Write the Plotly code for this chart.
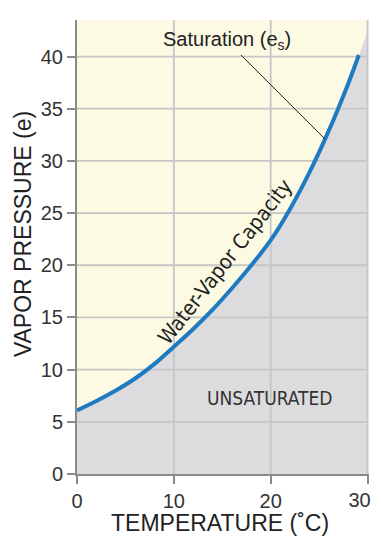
import numpy as np
import plotly.graph_objects as go

# ---- data ----
temp_c = [0, 2, 4, 6, 8, 10, 12, 14, 16, 18, 20, 22, 24, 26, 28, 30]
vapor_pressure = [6.1, 7.0, 8.0, 9.15, 10.55, 12.2, 13.9, 15.75, 17.8, 20.0, 22.4, 25.4, 28.9, 32.9, 37.4, 42.4]
curve_end_c = 29.1          # the blue curve stops just short of 30 °C
x_ticks = [0, 10, 20, 30]
x_tick_text = ["0", "10", "20", "30"]
y_ticks = [0, 5, 10, 15, 20, 25, 30, 35, 40]
x_max = 30.15
y_max = 43.5

YELLOW = "#FCFAE2"
GRAY = "#DCDCDE"
BLUE = "#1E7BC2"
GRID = "#C6C6C6"
AXIS = "#8A8A8A"
FONT = "Liberation Sans, Arial, sans-serif"
NARROW = "Liberation Sans Narrow, DejaVu Sans Condensed, Arial Narrow, sans-serif"

t = np.array(temp_c, dtype=float)
v = np.array(vapor_pressure, dtype=float)
mask = t < curve_end_c
t_curve = np.append(t[mask], curve_end_c)
v_curve = np.append(v[mask], np.interp(curve_end_c, t, v))

fig = go.Figure()

# unsaturated (gray) region under the capacity curve
fig.add_trace(go.Scatter(x=t, y=v, mode="lines", fill="tozeroy",
                         fillcolor=GRAY, line=dict(width=0, shape="spline"),
                         hoverinfo="skip", showlegend=False))

# grid lines drawn above the fill
gx, gy = [], []
for xv in x_ticks[1:]:
    gx += [xv, xv, None]
    gy += [0, y_max, None]
for yv in y_ticks[1:]:
    gx += [0, x_ticks[-1], None]
    gy += [yv, yv, None]
fig.add_trace(go.Scatter(x=gx, y=gy, mode="lines", line=dict(color=GRID, width=1.8),
                         hoverinfo="skip", showlegend=False))

# saturation curve
fig.add_trace(go.Scatter(x=t_curve, y=v_curve, mode="lines",
                         line=dict(color=BLUE, width=4, shape="spline"),
                         showlegend=False))

# invisible trace that carries the overlaid axis for the last tick label
fig.add_trace(go.Scatter(x=[x_ticks[-1]], y=[0], xaxis="x2", mode="markers",
                         marker=dict(opacity=0), hoverinfo="skip", showlegend=False))

sat_x = 25.6
sat_y = float(np.interp(sat_x, t, v))

fig.add_annotation(x=sat_x, y=sat_y, xref="x", yref="y",
                   text="Saturation (e<sub>s</sub>)", showarrow=True,
                   arrowhead=0, arrowwidth=1, arrowcolor="#222", standoff=0,
                   ax=-98, ay=-98, font=dict(family=FONT, size=20, color="#222"))
fig.add_annotation(x=15.3, y=20.3, xref="x", yref="y", text="Water-Vapor Capacity",
                   showarrow=False, textangle=-52,
                   font=dict(family=NARROW, size=21, color="#222"))
fig.add_annotation(x=19.9, y=7.3, xref="x", yref="y", text="UNSATURATED",
                   showarrow=False, font=dict(family=NARROW, size=19, color="#333"))

# axis titles
fig.add_annotation(x=0.491, y=-0.108, xref="paper", yref="paper",
                   text="TEMPERATURE (˚C)", showarrow=False,
                   xanchor="center", yanchor="middle",
                   font=dict(family=FONT, size=23, color="#222"))
fig.add_annotation(x=-0.184, y=0.529, xref="paper", yref="paper",
                   text="VAPOR PRESSURE (e)", showarrow=False, textangle=-90,
                   xanchor="center", yanchor="middle",
                   font=dict(family=FONT, size=23, color="#222"))

tickfont = dict(family=FONT, size=20, color="#333")
axis_common = dict(showgrid=False, zeroline=False, automargin=False,
                   showline=True, linecolor=AXIS, linewidth=2,
                   ticks="outside", ticklen=8, tickwidth=1.5, tickcolor=AXIS,
                   tickfont=tickfont)
fig.update_xaxes(range=[0, x_max], tickvals=x_ticks,
                 ticktext=x_tick_text[:-1] + [""], **axis_common)
fig.update_yaxes(range=[0, y_max], tickvals=y_ticks, **axis_common)

fig.update_layout(
    xaxis2=dict(overlaying="x", anchor="y", side="bottom", range=[0, x_max],
                tickvals=x_ticks[-1:], ticktext=x_tick_text[-1:],
                ticklabelshift=-8, ticks="outside", ticklen=8, tickwidth=1,
                tickcolor="rgba(0,0,0,0)", showline=False,
                showgrid=False, zeroline=False, automargin=False,
                tickfont=tickfont),
    # the page body adds an 8px offset; the figure is sized to fit inside it
    width=365, height=530, margin=dict(l=69, r=4, t=12, b=64),
    plot_bgcolor=YELLOW, paper_bgcolor="white")

fig.write_html("out.html")
